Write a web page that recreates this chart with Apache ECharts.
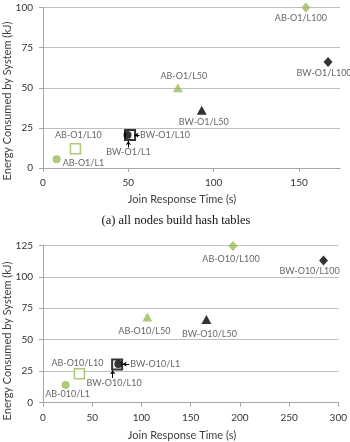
<!DOCTYPE html>
<html>
<head>
<meta charset="utf-8">
<script src="https://cdn.jsdelivr.net/npm/echarts@6/dist/echarts.min.js"></script>
<style>
  html, body { margin: 0; padding: 0; background: #fff; }
  #chart { width: 350px; height: 442px; }
</style>
</head>
<body>
<div id="chart"></div>
<script>
// (a) all nodes build hash tables
const topNames = ['AB-O1/L100', 'AB-O1/L50', 'AB-O1/L10', 'AB-O1/L1', 'BW-O1/L100', 'BW-O1/L50', 'BW-O1/L10', 'BW-O1/L1'];
const topTime = [154, 79, 19, 8, 167, 93, 51, 49.5];
const topEnergy = [100, 50, 12, 5.5, 66, 36, 20.5, 20.5];
// annotation arrows [fromX, fromY, toX, toY]
const topArrows = [[56.5, 20.5, 53.6, 20.5], [50, 12.8, 50, 16.8]];

// second chart
const bottomNames = ['AB-O10/L100', 'AB-O10/L50', 'AB-O10/L10', 'AB-010/L1', 'BW-O10/L100', 'BW-O10/L50', 'BW-O10/L10', 'BW-O10/L1'];
const bottomTime = [193, 106, 37, 23, 285, 166, 75.3, 76.5];
const bottomEnergy = [124.5, 68, 23, 14, 113, 66, 30.3, 30.7];
const bottomArrows = [[87.5, 30.7, 81, 30.7], [70.8, 19.6, 70.8, 25.8]];

const xTicksTop = [0, 50, 100, 150];
const xTicksBottom = [0, 50, 100, 150, 200, 250, 300];

// label placement (offset from the point, in px) - style only
const topLabelPos = [[-5, 11], [6, -12], [3, -13.5], [6, 4, 'left'], [-4, 11.5], [2, 12], [10, 0, 'left'], [1, 16.5]];
const bottomLabelPos = [[-2, 13], [-3, 14], [-2, -10.5], [2, 9], [-14, 10.5], [3, 14.5], [-3, 19], [12, 0, 'left']];

const GREEN = '#9BBB59';
const TXT = '#404040';
const FONT = 'Lato';

function markerFor(name) {
    const level = name.split('/')[1];
    const green = name.startsWith('AB');
    const col = green ? GREEN : '#000';
    if (level === 'L100') return { symbol: 'diamond', symbolSize: [9, 10], itemStyle: { color: col } };
    if (level === 'L50') return { symbol: 'triangle', symbolSize: [10, 9], itemStyle: { color: col } };
    if (level === 'L10') return {
        symbol: 'rect', symbolSize: 10,
        itemStyle: { color: '#fff', borderColor: col, borderWidth: green ? 1.5 : 2 }
    };
    return { symbol: 'circle', symbolSize: 8, itemStyle: { color: col } };
}

function buildData(names, xs, ys, pos) {
    return names.map((n, i) => {
        const p = pos[i];
        const m = markerFor(n);
        return {
            value: [xs[i], ys[i]],
            symbol: m.symbol,
            symbolSize: m.symbolSize,
            itemStyle: m.itemStyle,
            label: {
                show: true,
                position: 'inside',
                offset: [p[0], p[1]],
                align: p[2] || 'center',
                verticalAlign: 'middle',
                formatter: n,
                fontFamily: FONT, fontSize: 9, color: TXT
            }
        };
    });
}

function arrowLines(arrows) {
    return {
        silent: true,
        animation: false,
        symbol: ['none', 'arrow'],
        symbolSize: [4, 4],
        label: { show: false },
        lineStyle: { color: '#000', width: 1, type: 'solid' },
        emphasis: { disabled: true },
        data: arrows.map(a => [{ coord: [a[0], a[1]] }, { coord: [a[2], a[3]] }])
    };
}

function axisCommon() {
    return {
        axisLine: { show: true, lineStyle: { color: '#A6A6A6', width: 1 } },
        axisTick: { show: true, length: 4, inside: false, lineStyle: { color: '#A6A6A6' } },
        axisLabel: { color: '#333', fontFamily: FONT, fontSize: 10, margin: 10 },
        splitLine: { show: false }
    };
}

const chart = echarts.init(document.getElementById('chart'), null, { renderer: 'canvas' });

const option = {
    animation: false,
    backgroundColor: '#fff',
    grid: [
        { left: 43, top: 7.5, width: 297, height: 160.5 },
        { left: 43, top: 245.3, width: 297, height: 157.4 }
    ],
    xAxis: [
        Object.assign(axisCommon(), {
            gridIndex: 0, type: 'value', min: 0, max: 174,
            axisLabel: Object.assign(axisCommon().axisLabel, { customValues: xTicksTop }),
            axisTick: Object.assign(axisCommon().axisTick, { customValues: xTicksTop })
        }),
        Object.assign(axisCommon(), {
            gridIndex: 1, type: 'value', min: 0, max: 300, interval: 50,
            axisLabel: Object.assign(axisCommon().axisLabel, { customValues: xTicksBottom }),
            axisTick: Object.assign(axisCommon().axisTick, { customValues: xTicksBottom })
        })
    ],
    yAxis: [
        Object.assign(axisCommon(), {
            gridIndex: 0, type: 'value', min: 0, max: 100, interval: 25,
            splitLine: { show: true, lineStyle: { color: '#BFBFBF', width: 1 } }
        }),
        Object.assign(axisCommon(), {
            gridIndex: 1, type: 'value', min: 0, max: 125, interval: 25,
            splitLine: { show: true, lineStyle: { color: '#BFBFBF', width: 1 } }
        })
    ],
    series: [
        {
            type: 'scatter', xAxisIndex: 0, yAxisIndex: 0,
            data: buildData(topNames, topTime, topEnergy, topLabelPos),
            markLine: arrowLines(topArrows)
        },
        {
            type: 'scatter', xAxisIndex: 1, yAxisIndex: 1,
            data: buildData(bottomNames, bottomTime, bottomEnergy, bottomLabelPos),
            markLine: arrowLines(bottomArrows)
        }
    ],
    graphic: [
        {
            type: 'text', x: 182, y: 199,
            style: { text: 'Join Response Time (s)', fontFamily: FONT, fontSize: 11, fill: TXT, align: 'center', verticalAlign: 'middle' }
        },
        {
            type: 'text', x: 176, y: 221,
            style: { text: '(a) all nodes build hash tables', fontFamily: 'Liberation Serif', fontSize: 12.5, fill: '#111', align: 'center', verticalAlign: 'middle' }
        },
        {
            type: 'text', x: 182, y: 435,
            style: { text: 'Join Response Time (s)', fontFamily: FONT, fontSize: 11, fill: TXT, align: 'center', verticalAlign: 'middle' }
        },
        {
            type: 'text', x: 7, y: 101, rotation: Math.PI / 2,
            style: { text: 'Energy Consumed by System (kJ)', fontFamily: FONT, fontSize: 11, fill: TXT, align: 'center', verticalAlign: 'middle' }
        },
        {
            type: 'text', x: 7, y: 341, rotation: Math.PI / 2,
            style: { text: 'Energy Consumed by System (kJ)', fontFamily: FONT, fontSize: 11, fill: TXT, align: 'center', verticalAlign: 'middle' }
        }
    ]
};

chart.setOption(option);
</script>
</body>
</html>
